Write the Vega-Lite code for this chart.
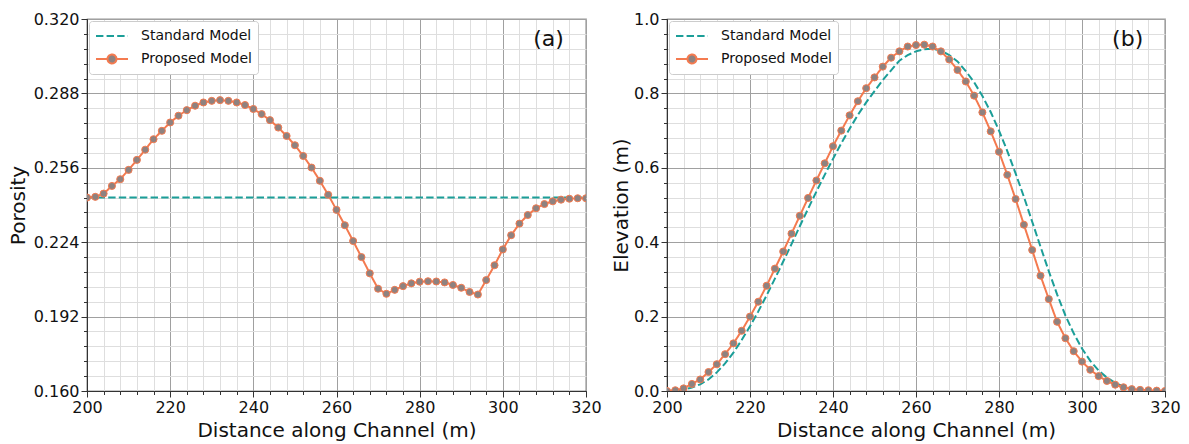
{
  "$schema": "https://vega.github.io/schema/vega-lite/v6.json",
  "padding": {"left": 7, "top": 10, "right": 0, "bottom": 0},
  "background": "white",
  "config": {
    "font": "DejaVu Sans",
    "view": {"stroke": "#333333", "strokeWidth": 1.2},
    "axis": {"labelColor": "#111111", "titleColor": "#111111", "tickColor": "#333333", "domainColor": "#333333", "titleFontWeight": "normal", "labelOverlap": false, "labelFlush": false}
  },
  "datasets": {
    "porosity": [
      {"x": 200, "value": 0.2432, "model": "Standard Model"},
      {"x": 320, "value": 0.2432, "model": "Standard Model"},
      {"x": 200, "value": 0.2432, "model": "Proposed Model"},
      {"x": 202, "value": 0.2435, "model": "Proposed Model"},
      {"x": 204, "value": 0.2449, "model": "Proposed Model"},
      {"x": 206, "value": 0.2482, "model": "Proposed Model"},
      {"x": 208, "value": 0.2511, "model": "Proposed Model"},
      {"x": 210, "value": 0.2551, "model": "Proposed Model"},
      {"x": 212, "value": 0.2594, "model": "Proposed Model"},
      {"x": 214, "value": 0.2638, "model": "Proposed Model"},
      {"x": 216, "value": 0.2683, "model": "Proposed Model"},
      {"x": 218, "value": 0.2719, "model": "Proposed Model"},
      {"x": 220, "value": 0.2755, "model": "Proposed Model"},
      {"x": 222, "value": 0.2784, "model": "Proposed Model"},
      {"x": 224, "value": 0.2808, "model": "Proposed Model"},
      {"x": 226, "value": 0.2827, "model": "Proposed Model"},
      {"x": 228, "value": 0.2841, "model": "Proposed Model"},
      {"x": 230, "value": 0.2848, "model": "Proposed Model"},
      {"x": 232, "value": 0.2851, "model": "Proposed Model"},
      {"x": 234, "value": 0.2848, "model": "Proposed Model"},
      {"x": 236, "value": 0.2841, "model": "Proposed Model"},
      {"x": 238, "value": 0.2830, "model": "Proposed Model"},
      {"x": 240, "value": 0.2813, "model": "Proposed Model"},
      {"x": 242, "value": 0.2791, "model": "Proposed Model"},
      {"x": 244, "value": 0.2765, "model": "Proposed Model"},
      {"x": 246, "value": 0.2733, "model": "Proposed Model"},
      {"x": 248, "value": 0.2697, "model": "Proposed Model"},
      {"x": 250, "value": 0.2657, "model": "Proposed Model"},
      {"x": 252, "value": 0.2611, "model": "Proposed Model"},
      {"x": 254, "value": 0.2561, "model": "Proposed Model"},
      {"x": 256, "value": 0.2504, "model": "Proposed Model"},
      {"x": 258, "value": 0.2444, "model": "Proposed Model"},
      {"x": 260, "value": 0.2379, "model": "Proposed Model"},
      {"x": 262, "value": 0.2313, "model": "Proposed Model"},
      {"x": 264, "value": 0.2245, "model": "Proposed Model"},
      {"x": 266, "value": 0.2176, "model": "Proposed Model"},
      {"x": 268, "value": 0.2106, "model": "Proposed Model"},
      {"x": 270, "value": 0.2040, "model": "Proposed Model"},
      {"x": 272, "value": 0.2018, "model": "Proposed Model"},
      {"x": 274, "value": 0.2035, "model": "Proposed Model"},
      {"x": 276, "value": 0.2051, "model": "Proposed Model"},
      {"x": 278, "value": 0.2063, "model": "Proposed Model"},
      {"x": 280, "value": 0.2070, "model": "Proposed Model"},
      {"x": 282, "value": 0.2072, "model": "Proposed Model"},
      {"x": 284, "value": 0.2071, "model": "Proposed Model"},
      {"x": 286, "value": 0.2067, "model": "Proposed Model"},
      {"x": 288, "value": 0.2056, "model": "Proposed Model"},
      {"x": 290, "value": 0.2044, "model": "Proposed Model"},
      {"x": 292, "value": 0.2026, "model": "Proposed Model"},
      {"x": 294, "value": 0.2015, "model": "Proposed Model"},
      {"x": 296, "value": 0.2077, "model": "Proposed Model"},
      {"x": 298, "value": 0.2141, "model": "Proposed Model"},
      {"x": 300, "value": 0.2209, "model": "Proposed Model"},
      {"x": 302, "value": 0.2270, "model": "Proposed Model"},
      {"x": 304, "value": 0.2320, "model": "Proposed Model"},
      {"x": 306, "value": 0.2357, "model": "Proposed Model"},
      {"x": 308, "value": 0.2386, "model": "Proposed Model"},
      {"x": 310, "value": 0.2404, "model": "Proposed Model"},
      {"x": 312, "value": 0.2416, "model": "Proposed Model"},
      {"x": 314, "value": 0.2423, "model": "Proposed Model"},
      {"x": 316, "value": 0.2427, "model": "Proposed Model"},
      {"x": 318, "value": 0.2429, "model": "Proposed Model"},
      {"x": 320, "value": 0.2429, "model": "Proposed Model"}
    ],
    "elevation": [
      {"x": 200, "value": 0.000, "model": "Standard Model"},
      {"x": 202, "value": 0.001, "model": "Standard Model"},
      {"x": 204, "value": 0.004, "model": "Standard Model"},
      {"x": 206, "value": 0.009, "model": "Standard Model"},
      {"x": 208, "value": 0.018, "model": "Standard Model"},
      {"x": 210, "value": 0.031, "model": "Standard Model"},
      {"x": 212, "value": 0.050, "model": "Standard Model"},
      {"x": 214, "value": 0.074, "model": "Standard Model"},
      {"x": 216, "value": 0.103, "model": "Standard Model"},
      {"x": 218, "value": 0.137, "model": "Standard Model"},
      {"x": 220, "value": 0.174, "model": "Standard Model"},
      {"x": 222, "value": 0.214, "model": "Standard Model"},
      {"x": 224, "value": 0.257, "model": "Standard Model"},
      {"x": 226, "value": 0.302, "model": "Standard Model"},
      {"x": 228, "value": 0.348, "model": "Standard Model"},
      {"x": 230, "value": 0.395, "model": "Standard Model"},
      {"x": 232, "value": 0.443, "model": "Standard Model"},
      {"x": 234, "value": 0.490, "model": "Standard Model"},
      {"x": 236, "value": 0.536, "model": "Standard Model"},
      {"x": 238, "value": 0.581, "model": "Standard Model"},
      {"x": 240, "value": 0.624, "model": "Standard Model"},
      {"x": 242, "value": 0.666, "model": "Standard Model"},
      {"x": 244, "value": 0.705, "model": "Standard Model"},
      {"x": 246, "value": 0.742, "model": "Standard Model"},
      {"x": 248, "value": 0.776, "model": "Standard Model"},
      {"x": 250, "value": 0.806, "model": "Standard Model"},
      {"x": 252, "value": 0.836, "model": "Standard Model"},
      {"x": 254, "value": 0.862, "model": "Standard Model"},
      {"x": 256, "value": 0.888, "model": "Standard Model"},
      {"x": 258, "value": 0.903, "model": "Standard Model"},
      {"x": 260, "value": 0.913, "model": "Standard Model"},
      {"x": 262, "value": 0.919, "model": "Standard Model"},
      {"x": 264, "value": 0.920, "model": "Standard Model"},
      {"x": 266, "value": 0.915, "model": "Standard Model"},
      {"x": 268, "value": 0.903, "model": "Standard Model"},
      {"x": 270, "value": 0.886, "model": "Standard Model"},
      {"x": 272, "value": 0.860, "model": "Standard Model"},
      {"x": 274, "value": 0.830, "model": "Standard Model"},
      {"x": 276, "value": 0.793, "model": "Standard Model"},
      {"x": 278, "value": 0.750, "model": "Standard Model"},
      {"x": 280, "value": 0.700, "model": "Standard Model"},
      {"x": 282, "value": 0.645, "model": "Standard Model"},
      {"x": 284, "value": 0.585, "model": "Standard Model"},
      {"x": 286, "value": 0.522, "model": "Standard Model"},
      {"x": 288, "value": 0.455, "model": "Standard Model"},
      {"x": 290, "value": 0.388, "model": "Standard Model"},
      {"x": 292, "value": 0.322, "model": "Standard Model"},
      {"x": 294, "value": 0.260, "model": "Standard Model"},
      {"x": 296, "value": 0.203, "model": "Standard Model"},
      {"x": 298, "value": 0.155, "model": "Standard Model"},
      {"x": 300, "value": 0.114, "model": "Standard Model"},
      {"x": 302, "value": 0.081, "model": "Standard Model"},
      {"x": 304, "value": 0.055, "model": "Standard Model"},
      {"x": 306, "value": 0.036, "model": "Standard Model"},
      {"x": 308, "value": 0.022, "model": "Standard Model"},
      {"x": 310, "value": 0.012, "model": "Standard Model"},
      {"x": 312, "value": 0.006, "model": "Standard Model"},
      {"x": 314, "value": 0.003, "model": "Standard Model"},
      {"x": 316, "value": 0.001, "model": "Standard Model"},
      {"x": 318, "value": 0.000, "model": "Standard Model"},
      {"x": 320, "value": 0.000, "model": "Standard Model"},
      {"x": 200, "value": 0.000, "model": "Proposed Model"},
      {"x": 202, "value": 0.002, "model": "Proposed Model"},
      {"x": 204, "value": 0.007, "model": "Proposed Model"},
      {"x": 206, "value": 0.019, "model": "Proposed Model"},
      {"x": 208, "value": 0.031, "model": "Proposed Model"},
      {"x": 210, "value": 0.051, "model": "Proposed Model"},
      {"x": 212, "value": 0.072, "model": "Proposed Model"},
      {"x": 214, "value": 0.099, "model": "Proposed Model"},
      {"x": 216, "value": 0.128, "model": "Proposed Model"},
      {"x": 218, "value": 0.162, "model": "Proposed Model"},
      {"x": 220, "value": 0.200, "model": "Proposed Model"},
      {"x": 222, "value": 0.240, "model": "Proposed Model"},
      {"x": 224, "value": 0.283, "model": "Proposed Model"},
      {"x": 226, "value": 0.329, "model": "Proposed Model"},
      {"x": 228, "value": 0.375, "model": "Proposed Model"},
      {"x": 230, "value": 0.423, "model": "Proposed Model"},
      {"x": 232, "value": 0.471, "model": "Proposed Model"},
      {"x": 234, "value": 0.519, "model": "Proposed Model"},
      {"x": 236, "value": 0.566, "model": "Proposed Model"},
      {"x": 238, "value": 0.612, "model": "Proposed Model"},
      {"x": 240, "value": 0.658, "model": "Proposed Model"},
      {"x": 242, "value": 0.700, "model": "Proposed Model"},
      {"x": 244, "value": 0.741, "model": "Proposed Model"},
      {"x": 246, "value": 0.779, "model": "Proposed Model"},
      {"x": 248, "value": 0.814, "model": "Proposed Model"},
      {"x": 250, "value": 0.843, "model": "Proposed Model"},
      {"x": 252, "value": 0.872, "model": "Proposed Model"},
      {"x": 254, "value": 0.896, "model": "Proposed Model"},
      {"x": 256, "value": 0.913, "model": "Proposed Model"},
      {"x": 258, "value": 0.926, "model": "Proposed Model"},
      {"x": 260, "value": 0.930, "model": "Proposed Model"},
      {"x": 262, "value": 0.931, "model": "Proposed Model"},
      {"x": 264, "value": 0.926, "model": "Proposed Model"},
      {"x": 266, "value": 0.913, "model": "Proposed Model"},
      {"x": 268, "value": 0.891, "model": "Proposed Model"},
      {"x": 270, "value": 0.863, "model": "Proposed Model"},
      {"x": 272, "value": 0.832, "model": "Proposed Model"},
      {"x": 274, "value": 0.794, "model": "Proposed Model"},
      {"x": 276, "value": 0.749, "model": "Proposed Model"},
      {"x": 278, "value": 0.698, "model": "Proposed Model"},
      {"x": 280, "value": 0.643, "model": "Proposed Model"},
      {"x": 282, "value": 0.581, "model": "Proposed Model"},
      {"x": 284, "value": 0.516, "model": "Proposed Model"},
      {"x": 286, "value": 0.447, "model": "Proposed Model"},
      {"x": 288, "value": 0.379, "model": "Proposed Model"},
      {"x": 290, "value": 0.310, "model": "Proposed Model"},
      {"x": 292, "value": 0.247, "model": "Proposed Model"},
      {"x": 294, "value": 0.186, "model": "Proposed Model"},
      {"x": 296, "value": 0.142, "model": "Proposed Model"},
      {"x": 298, "value": 0.107, "model": "Proposed Model"},
      {"x": 300, "value": 0.079, "model": "Proposed Model"},
      {"x": 302, "value": 0.057, "model": "Proposed Model"},
      {"x": 304, "value": 0.040, "model": "Proposed Model"},
      {"x": 306, "value": 0.027, "model": "Proposed Model"},
      {"x": 308, "value": 0.017, "model": "Proposed Model"},
      {"x": 310, "value": 0.010, "model": "Proposed Model"},
      {"x": 312, "value": 0.005, "model": "Proposed Model"},
      {"x": 314, "value": 0.003, "model": "Proposed Model"},
      {"x": 316, "value": 0.002, "model": "Proposed Model"},
      {"x": 318, "value": 0.001, "model": "Proposed Model"},
      {"x": 320, "value": 0.000, "model": "Proposed Model"}
    ]
  },
  "bounds": "flush",
  "spacing": 81,
  "hconcat": [
    {
      "width": 499,
      "height": 372,
      "data": {"name": "porosity"},
      "resolve": {"axis": {"x": "independent", "y": "independent"}},
      "layer": [
        {
          "mark": {"type": "line", "strokeWidth": 2, "clip": true},
          "encoding": {
            "x": {"field": "x", "type": "quantitative", "scale": {"domain": [200, 320], "nice": false, "zero": false},
              "axis": {"orient": "bottom", "values": [200,204,208,212,216,220,224,228,232,236,240,244,248,252,256,260,264,268,272,276,280,284,288,292,296,300,304,308,312,316,320], "grid": true, "gridColor": "#dedede", "labels": false, "domain": false, "tickSize": 3.5, "title": null}},
            "y": {"field": "value", "type": "quantitative", "scale": {"domain": [0.16, 0.32], "nice": false, "zero": false},
              "axis": {"orient": "left", "values": [0.16,0.1664,0.1728,0.1792,0.1856,0.192,0.1984,0.2048,0.2112,0.2176,0.224,0.2304,0.2368,0.2432,0.2496,0.256,0.2624,0.2688,0.2752,0.2816,0.288,0.2944,0.3008,0.3072,0.3136,0.32], "grid": true, "gridColor": "#dedede", "labels": false, "domain": false, "tickSize": 3.5, "title": null}},
            "color": {"field": "model", "type": "nominal",
              "scale": {"domain": ["Standard Model", "Proposed Model"], "range": ["#1b9e98", "#f47a4f"]},
              "legend": {"title": null, "orient": "top-left", "offset": 1.5, "padding": 6, "fillColor": "white", "strokeColor": "#cccccc", "cornerRadius": 3, "labelFontSize": 14, "labelColor": "#111111", "symbolSize": 256, "symbolStrokeWidth": 2, "rowPadding": 7, "labelOffset": 28,
                "encode": {"symbols": {"update": {
                  "shape": {"signal": "datum.value === 'Proposed Model' ? 'M-1,0L0.44,0M1.56,0L3,0M1.56,0C1.56,0.309,1.309,0.56,1,0.56C0.691,0.56,0.44,0.309,0.44,0C0.44,-0.309,0.691,-0.56,1,-0.56C1.309,-0.56,1.56,-0.309,1.56,0Z' : 'M-1,0L3,0'"},
                  "fill": {"signal": "datum.value === 'Proposed Model' ? '#8e8280' : 'transparent'"}
                }}}}},
            "strokeDash": {"field": "model", "type": "nominal", "scale": {"domain": ["Standard Model", "Proposed Model"], "range": [[7.4, 3.2], [1, 0]]}}
          }
        },
        {
          "transform": [{"filter": "datum.model === 'Proposed Model'"}],
          "mark": {"type": "circle", "size": 50, "fill": "#8e8280", "stroke": "#f47a4f", "strokeWidth": 1, "opacity": 1, "clip": true},
          "encoding": {
            "x": {"field": "x", "type": "quantitative", "scale": {"domain": [200, 320], "nice": false, "zero": false},
              "axis": {"orient": "bottom", "values": [200, 220, 240, 260, 280, 300, 320], "format": "d", "grid": true, "gridColor": "#a0a0a0", "tickSize": 6, "labelFontSize": 16, "labelPadding": 2, "title": "Distance along Channel (m)", "titleFontSize": 20, "titlePadding": 5}},
            "y": {"field": "value", "type": "quantitative", "scale": {"domain": [0.16, 0.32], "nice": false, "zero": false},
              "axis": {"orient": "left", "values": [0.16, 0.192, 0.224, 0.256, 0.288, 0.32], "format": ".3f", "grid": true, "gridColor": "#a0a0a0", "tickSize": 6, "labelFontSize": 16, "labelPadding": 2, "title": "Porosity", "titleFontSize": 20, "titlePadding": 5}}
          }
        },
        {
          "data": {"values": [{"label": "(a)"}]},
          "mark": {"type": "text", "fontSize": 22, "align": "center", "baseline": "middle", "color": "#111111"},
          "encoding": {
            "x": {"datum": 311, "type": "quantitative", "axis": null},
            "y": {"datum": 0.3115, "type": "quantitative", "axis": null},
            "text": {"field": "label"}
          }
        }
      ]
    },
    {
      "width": 498,
      "height": 372,
      "data": {"name": "elevation"},
      "resolve": {"axis": {"x": "independent", "y": "independent"}},
      "layer": [
        {
          "mark": {"type": "line", "strokeWidth": 2, "clip": true},
          "encoding": {
            "x": {"field": "x", "type": "quantitative", "scale": {"domain": [200, 320], "nice": false, "zero": false},
              "axis": {"orient": "bottom", "values": [200,204,208,212,216,220,224,228,232,236,240,244,248,252,256,260,264,268,272,276,280,284,288,292,296,300,304,308,312,316,320], "grid": true, "gridColor": "#dedede", "labels": false, "domain": false, "tickSize": 3.5, "title": null}},
            "y": {"field": "value", "type": "quantitative", "scale": {"domain": [0, 1], "nice": false, "zero": false},
              "axis": {"orient": "left", "values": [0,0.04,0.08,0.12,0.16,0.2,0.24,0.28,0.32,0.36,0.4,0.44,0.48,0.52,0.56,0.6,0.64,0.68,0.72,0.76,0.8,0.84,0.88,0.92,0.96,1], "grid": true, "gridColor": "#dedede", "labels": false, "domain": false, "tickSize": 3.5, "title": null}},
            "color": {"field": "model", "type": "nominal",
              "scale": {"domain": ["Standard Model", "Proposed Model"], "range": ["#1b9e98", "#f47a4f"]},
              "legend": {"title": null, "orient": "top-left", "offset": 1.5, "padding": 6, "fillColor": "white", "strokeColor": "#cccccc", "cornerRadius": 3, "labelFontSize": 14, "labelColor": "#111111", "symbolSize": 256, "symbolStrokeWidth": 2, "rowPadding": 7, "labelOffset": 28,
                "encode": {"symbols": {"update": {
                  "shape": {"signal": "datum.value === 'Proposed Model' ? 'M-1,0L0.44,0M1.56,0L3,0M1.56,0C1.56,0.309,1.309,0.56,1,0.56C0.691,0.56,0.44,0.309,0.44,0C0.44,-0.309,0.691,-0.56,1,-0.56C1.309,-0.56,1.56,-0.309,1.56,0Z' : 'M-1,0L3,0'"},
                  "fill": {"signal": "datum.value === 'Proposed Model' ? '#8e8280' : 'transparent'"}
                }}}}},
            "strokeDash": {"field": "model", "type": "nominal", "scale": {"domain": ["Standard Model", "Proposed Model"], "range": [[7.4, 3.2], [1, 0]]}}
          }
        },
        {
          "transform": [{"filter": "datum.model === 'Proposed Model'"}],
          "mark": {"type": "circle", "size": 50, "fill": "#8e8280", "stroke": "#f47a4f", "strokeWidth": 1, "opacity": 1, "clip": true},
          "encoding": {
            "x": {"field": "x", "type": "quantitative", "scale": {"domain": [200, 320], "nice": false, "zero": false},
              "axis": {"orient": "bottom", "values": [200, 220, 240, 260, 280, 300, 320], "format": "d", "grid": true, "gridColor": "#a0a0a0", "tickSize": 6, "labelFontSize": 16, "labelPadding": 2, "title": "Distance along Channel (m)", "titleFontSize": 20, "titlePadding": 5}},
            "y": {"field": "value", "type": "quantitative", "scale": {"domain": [0, 1], "nice": false, "zero": false},
              "axis": {"orient": "left", "values": [0, 0.2, 0.4, 0.6, 0.8, 1.0], "format": ".1f", "grid": true, "gridColor": "#a0a0a0", "tickSize": 6, "labelFontSize": 16, "labelPadding": 2, "title": "Elevation (m)", "titleFontSize": 20, "titlePadding": 2}}
          }
        },
        {
          "data": {"values": [{"label": "(b)"}]},
          "mark": {"type": "text", "fontSize": 22, "align": "center", "baseline": "middle", "color": "#111111"},
          "encoding": {
            "x": {"datum": 311, "type": "quantitative", "axis": null},
            "y": {"datum": 0.946, "type": "quantitative", "axis": null},
            "text": {"field": "label"}
          }
        }
      ]
    }
  ],
  "resolve": {"scale": {"color": "independent", "strokeDash": "independent"}, "legend": {"color": "independent", "strokeDash": "independent"}}
}
